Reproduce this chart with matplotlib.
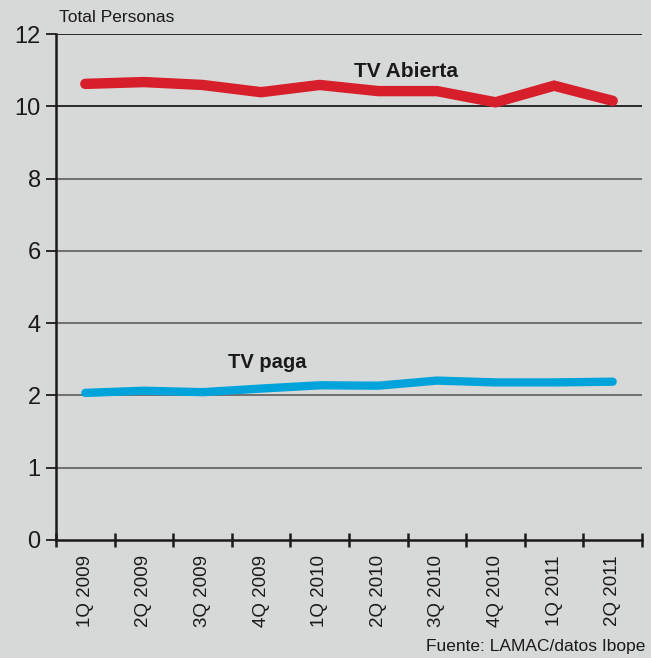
import numpy as np
import matplotlib
matplotlib.use('Agg')
from matplotlib import pyplot as plt

# datos
trimestres = ['1Q 2009', '2Q 2009', '3Q 2009', '4Q 2009', '1Q 2010',
              '2Q 2010', '3Q 2010', '4Q 2010', '1Q 2011', '2Q 2011']
tv_abierta = [10.62, 10.67, 10.59, 10.39, 10.59, 10.42, 10.42, 10.11, 10.57, 10.15]
tv_paga = [2.07, 2.13, 2.09, 2.19, 2.28, 2.27, 2.41, 2.36, 2.36, 2.38]
y_ticks = [0, 1, 2, 4, 6, 8, 10, 12]

bg = '#d7d9d8'
rojo = '#d71f2b'
azul = '#00a3da'
plt.rcParams['font.family'] = ['Liberation Sans', 'DejaVu Sans']

# escala irregular: las marcas estan equiespaciadas
pos = np.arange(len(y_ticks))
def fwd(v):
    return np.interp(v, y_ticks, pos)
def inv(p):
    return np.interp(p, pos, y_ticks)

fig = plt.figure(figsize=(6.51, 6.58), dpi=100, facecolor=bg)
ax = fig.add_axes([56/651, 118/658, 586/651, 506/658])
ax.set_facecolor(bg)
ax.set_yscale('function', functions=(fwd, inv))
ax.set_ylim(0, 12)
ax.set_xlim(-0.5, len(trimestres) - 0.5)

x = np.arange(len(trimestres))
for t in y_ticks[1:]:
    c = '#2a2a2a' if t >= 10 else '#707070'
    ax.axhline(t, color=c, lw=1.4, zorder=1)

ax.plot(x, tv_abierta, color=rojo, lw=7.5, solid_capstyle='round',
        solid_joinstyle='miter', zorder=3)
ax.plot(x, tv_paga, color=azul, lw=6, solid_capstyle='round',
        solid_joinstyle='miter', zorder=3)

ax.text(5.47, 10.97, 'TV Abierta', fontsize=15, fontweight='bold',
        color='#1a1a1a', ha='center', va='center')
ax.text(3.1, 2.92, 'TV paga', fontsize=14.5, fontweight='bold',
        color='#1a1a1a', ha='center', va='center')

ax.set_yticks(y_ticks)
ax.set_yticklabels([str(t) for t in y_ticks], fontsize=17, color='#1a1a1a')
ax.yaxis.set_minor_locator(matplotlib.ticker.NullLocator())
ax.tick_params(axis='y', length=7, width=1.4, color='#2a2a2a', pad=4)

ax.set_xticks(np.arange(len(trimestres) + 1) - 0.5)
ax.set_xticklabels([])
ax.set_xticks(x, minor=True)
ax.set_xticklabels(trimestres, minor=True, rotation=90, fontsize=13.5,
                   color='#1a1a1a', va='top')
ax.tick_params(axis='x', which='major', direction='inout', length=10,
               width=1.8, color='#1a1a1a')
ax.tick_params(axis='x', which='minor', length=0, pad=11)

for s in ['top', 'right']:
    ax.spines[s].set_visible(False)
ax.spines['left'].set_linewidth(1.8)
ax.spines['bottom'].set_linewidth(1.8)
ax.spines['left'].set_color('#1a1a1a')
ax.spines['bottom'].set_color('#1a1a1a')

fig.text(59/651, 1 - 18/658, 'Total Personas', fontsize=12.5,
         color='#1a1a1a', ha='left', va='center')
fig.text(645/651, 1 - 647/658, 'Fuente: LAMAC/datos Ibope',
         fontsize=12.5, color='#1a1a1a', ha='right', va='center')

fig.savefig('out.png', dpi=100, facecolor=bg)
